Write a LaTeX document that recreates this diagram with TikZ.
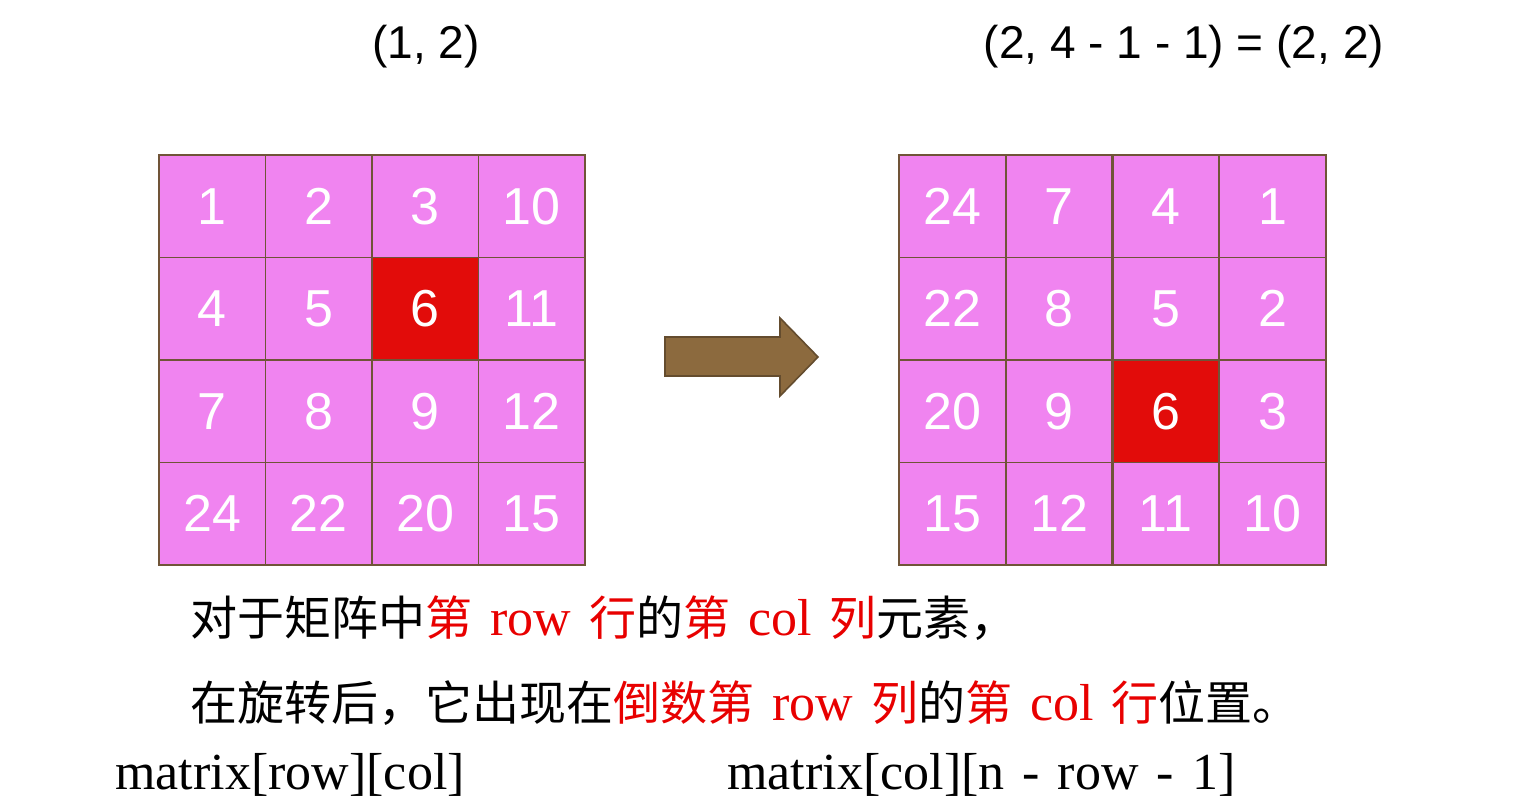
\documentclass[tikz,border=0pt]{standalone}
\usepackage{fontspec}
\setmainfont{Liberation Serif}
\setsansfont{Liberation Sans}
\newfontfamily\cjk{Noto Sans CJK SC}
\usepackage{xcolor}

\definecolor{cellpink}{RGB}{240,132,240}
\definecolor{cellred}{RGB}{226,12,10}
\definecolor{cellline}{RGB}{112,84,56}
\definecolor{arrowbrown}{RGB}{140,106,62}
\definecolor{arrowline}{RGB}{100,76,46}
\definecolor{textred}{RGB}{232,0,0}

\newcommand{\zh}[1]{{\fontsize{23.5}{28}\cjk #1}}
\newcommand{\hot}[1]{{\color{textred}#1}}
\newcommand{\wgap}{\hspace{9pt}}

\begin{document}
\begin{tikzpicture}[x=0.5pt,y=-0.5pt,
    cell/.style={draw=cellline,line width=0.9pt,fill=cellpink,
        minimum width=53.25pt,minimum height=51.25pt,inner sep=0pt,
        text=white,font=\sffamily\fontsize{26}{30}\selectfont},
    hotcell/.style={cell,fill=cellred},
    title/.style={font=\sffamily\fontsize{23}{28}\selectfont},
    formula/.style={anchor=base west,inner sep=0pt,
        font=\fontsize{26}{30}\selectfont}]

    \useasboundingbox (0,0) rectangle (1534,812);

    %positions before and after the turn
    \node[title] (t-before) at (426,47) {(1, 2)};
    \node[title] (t-after) at (1184,47) {(2, 4 - 1 - 1) = (2, 2)};

    %matrix before rotation
    \foreach \cells [count=\r] in {{1,2,3,10},{4,5,6,11},{7,8,9,12},{24,22,20,15}} {
        \foreach \v [count=\c] in \cells {
            \ifnum\r\c=23 \def\cellkind{hotcell}\else\def\cellkind{cell}\fi
            \node[\cellkind] (L-\r-\c) at ({159+(\c-0.5)*106.5},{155+(\r-0.5)*102.5}) {\v};
        }
    }

    %matrix after rotation
    \foreach \cells [count=\r] in {{24,7,4,1},{22,8,5,2},{20,9,6,3},{15,12,11,10}} {
        \foreach \v [count=\c] in \cells {
            \ifnum\r\c=33 \def\cellkind{hotcell}\else\def\cellkind{cell}\fi
            \node[\cellkind] (R-\r-\c) at ({899+(\c-0.5)*106.75},{155+(\r-0.5)*102.5}) {\v};
        }
    }

    %block arrow between the two grids
    \draw[draw=arrowline,fill=arrowbrown,line width=0.8pt]
        (665,337) -- (780,337) -- (780,318) -- (818,357)
        -- (780,396) -- (780,376) -- (665,376) -- cycle;

    %the rule, in words
    \node[formula] (rule-1) at (190,635)
        {\zh{对于矩阵中}\hot{\zh{第}\wgap row\wgap\zh{行}}\zh{的}\hot{\zh{第}\wgap col\wgap\zh{列}}\zh{元素，}};
    \node[formula] (rule-2) at (190,720)
        {\zh{在旋转后，它出现在}\hot{\zh{倒数第}\wgap row\wgap\zh{列}}\zh{的}\hot{\zh{第}\wgap col\wgap\zh{行}}\zh{位置。}};

    %index mapping
    \node[formula] (idx-before) at (115,789) {matrix[row][col]};
    \node[formula] (idx-after) at (727,789) {matrix[col][n\wgap-\wgap row\wgap-\wgap 1]};
\end{tikzpicture}
\end{document}
